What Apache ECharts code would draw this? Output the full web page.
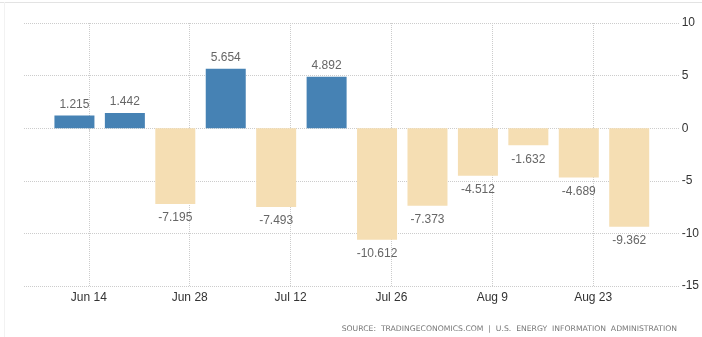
<!DOCTYPE html>
<html>
<head>
<meta charset="utf-8">
<script src="https://cdn.jsdelivr.net/npm/echarts@6/dist/echarts.min.js"></script>
<style>
html,body{margin:0;padding:0;background:#fff;}
#chart{width:702px;height:337px;}
</style>
</head>
<body>
<div id="chart"></div>
<script>
// Week positions: days after May 31 (Jun 14 = 14)
var weekDays = [12, 19, 26, 33, 40, 47, 54, 61, 68, 75, 82, 89];
var values = [1.215, 1.442, -7.195, 5.654, -7.493, 4.892, -10.612, -7.373, -4.512, -1.632, -4.689, -9.362];
var tickDays = [14, 28, 42, 56, 70, 84];
var tickLabels = ['Jun 14', 'Jun 28', 'Jul 12', 'Jul 26', 'Aug 9', 'Aug 23'];
var yTicks = [-15, -10, -5, 0, 5, 10];
var sourceText = 'SOURCE:  TRADINGECONOMICS.COM  |  U.S.  ENERGY  INFORMATION  ADMINISTRATION';

var POS = '#4682b4', NEG = '#f5deb3';
var font = 'Liberation Sans';

var data = weekDays.map(function (d, i) {
  var v = values[i];
  return {
    value: [d, v],
    itemStyle: { color: v >= 0 ? POS : NEG },
    label: { position: v >= 0 ? 'top' : 'bottom', distance: v >= 0 ? 5 : 8 }
  };
});

var labelMap = {};
tickDays.forEach(function (d, i) { labelMap[d] = tickLabels[i]; });

var chart = echarts.init(document.getElementById('chart'));
chart.setOption({
  animation: false,
  backgroundColor: '#fff',
  grid: { left: 24, right: 22, top: 23, bottom: 51, containLabel: false },
  xAxis: {
    type: 'value',
    min: 5,
    max: 96,
    axisLine: { show: false },
    axisTick: { show: true, customValues: tickDays, length: 4, lineStyle: { color: '#ccc', type: 'dotted' } },
    axisLabel: {
      customValues: tickDays,
      formatter: function (v) { return labelMap[v] || ''; },
      color: '#333', fontSize: 12, fontFamily: font, margin: 6
    },
    splitLine: { show: true, lineStyle: { color: '#ccc', type: 'dotted', width: 1 } }
  },
  yAxis: {
    type: 'value',
    position: 'right',
    min: yTicks[0],
    max: yTicks[yTicks.length - 1],
    interval: 5,
    axisLine: { show: false },
    axisTick: { show: false },
    axisLabel: { color: '#333', fontSize: 12, fontFamily: font, margin: 2 },
    splitLine: { show: true, lineStyle: { color: '#ccc', type: 'dotted', width: 1 } }
  },
  series: [{
    type: 'bar',
    barWidth: 40,
    data: data,
    label: {
      show: true,
      color: '#666',
      fontSize: 12,
      fontFamily: font,
      formatter: function (p) { return p.value[1].toFixed(3); }
    }
  }],
  graphic: [
    { type: 'line', shape: { x1: 0, y1: 2.5, x2: 702, y2: 2.5 }, style: { stroke: '#e3e3e3', lineWidth: 1 } },
    { type: 'line', shape: { x1: 4.5, y1: 2, x2: 4.5, y2: 337 }, style: { stroke: '#f2f2f2', lineWidth: 1 } },
    { type: 'text', right: 25, top: 325, style: { text: sourceText, fill: '#777', fontSize: 7.7, fontFamily: 'DejaVu Sans' } }
  ]
});
</script>
</body>
</html>
